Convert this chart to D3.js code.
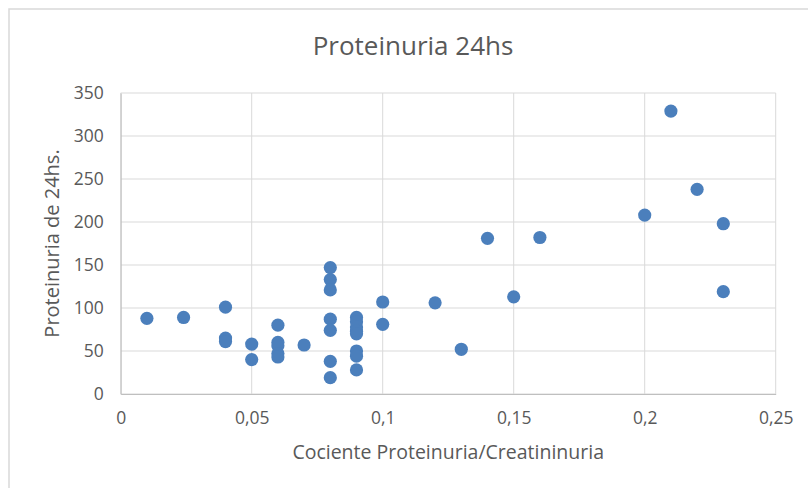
<!DOCTYPE html>
<html>
<head>
<meta charset="utf-8">
<script src="https://cdn.jsdelivr.net/npm/d3@7"></script>
<style>
  html, body { margin: 0; padding: 0; background: #fff; }
  svg { display: block; }
  text { font-family: "Open Sans", sans-serif; fill: #595959; }
</style>
</head>
<body>
<svg id="chart" width="808" height="488"></svg>
<script>
// Data
const cocienteX = [0.01, 0.024, 0.04, 0.04, 0.04, 0.05, 0.05,
  0.06, 0.06, 0.06, 0.06, 0.06, 0.07,
  0.08, 0.08, 0.08, 0.08, 0.08, 0.08, 0.08,
  0.09, 0.09, 0.09, 0.09, 0.09, 0.09, 0.09, 0.09,
  0.1, 0.1, 0.12, 0.13, 0.14, 0.15, 0.16, 0.2, 0.21, 0.22, 0.23, 0.23];
const proteinuriaY = [88, 89, 101, 65, 61, 58, 40,
  80, 60, 56, 47, 43, 57,
  147, 133, 121, 87, 74, 38, 19,
  89, 84, 78, 73, 70, 50, 44, 28,
  107, 81, 106, 52, 181, 113, 182, 208, 329, 238, 198, 119];
const xTicks = [0, 0.05, 0.1, 0.15, 0.2, 0.25];
const yTicks = [0, 50, 100, 150, 200, 250, 300, 350];
const titleText = "Proteinuria 24hs";
const xTitle = "Cociente Proteinuria/Creatininuria";
const yTitle = "Proteinuria de 24hs.";

const svg = d3.select("#chart");
const pLeft = 120.7, pRight = 775.7, pTop = 93, pBottom = 394;

// outer chart frame
svg.append("rect").attr("x", 9).attr("y", 9).attr("width", 820).attr("height", 500)
  .attr("fill", "#fff").attr("stroke", "#d9d9d9").attr("stroke-width", 1.5);

const x = d3.scaleLinear().domain([0, 0.25]).range([pLeft, pRight]);
const y = d3.scaleLinear().domain([0, 350]).range([pBottom, pTop]);

const fmt = d => d3.format("~g")(d).replace(".", ",");

// gridlines
svg.append("g").selectAll("line").data(yTicks).join("line")
  .attr("x1", pLeft).attr("x2", pRight)
  .attr("y1", d => y(d)).attr("y2", d => y(d))
  .attr("stroke", "#d9d9d9").attr("stroke-width", 1);
svg.append("g").selectAll("line").data(xTicks).join("line")
  .attr("y1", pTop).attr("y2", pBottom)
  .attr("x1", d => x(d)).attr("x2", d => x(d))
  .attr("stroke", "#d9d9d9").attr("stroke-width", 1);

// axes
const xAxis = svg.append("g").attr("transform", `translate(0,${pBottom})`)
  .call(d3.axisBottom(x).tickValues(xTicks).tickFormat(fmt).tickSize(0).tickPadding(18));
const yAxis = svg.append("g").attr("transform", `translate(${pLeft},0)`)
  .call(d3.axisLeft(y).tickValues(yTicks).tickFormat(fmt).tickSize(0).tickPadding(17));
[xAxis, yAxis].forEach(a => {
  a.select(".domain").attr("stroke", "#bfbfbf").attr("stroke-width", 1);
  a.selectAll("text").attr("font-size", 17.5).attr("fill", "#595959")
    .attr("font-family", "'Open Sans', sans-serif");
});

// points
svg.append("g").selectAll("circle").data(cocienteX.map((d, i) => [d, proteinuriaY[i]]))
  .join("circle")
  .attr("cx", d => x(d[0])).attr("cy", d => y(d[1])).attr("r", 6.6)
  .attr("fill", "#4b7fbc");

// titles
svg.append("text").attr("x", 413).attr("y", 55).attr("text-anchor", "middle")
  .attr("font-size", 26).text(titleText);
svg.append("text").attr("x", (pLeft + pRight) / 2).attr("y", 459).attr("text-anchor", "middle")
  .attr("font-size", 19.5).text(xTitle);
svg.append("text").attr("transform", `translate(59,${(pTop + pBottom) / 2}) rotate(-90)`)
  .attr("text-anchor", "middle").attr("font-size", 20).text(yTitle);
</script>
</body>
</html>
